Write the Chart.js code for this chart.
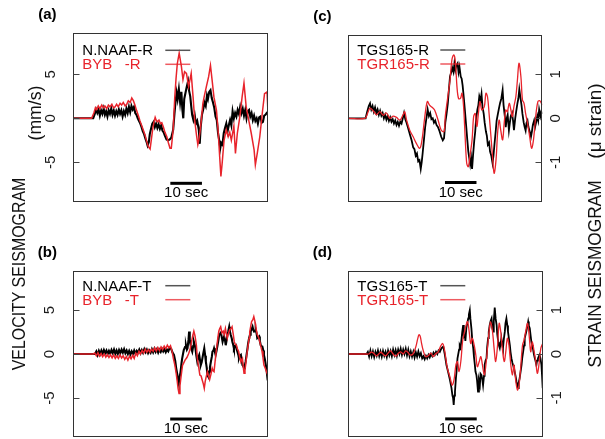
<!DOCTYPE html>
<html><head><meta charset="utf-8">
<script src="https://cdn.jsdelivr.net/npm/chart.js@4.4.1/dist/chart.umd.min.js"></script>
<style>
html,body{margin:0;padding:0;background:#fff;width:605px;height:439px;overflow:hidden;position:relative}
canvas{position:absolute}
.ttl{position:absolute;font-family:"Liberation Sans",Arial,Helvetica,sans-serif;font-size:18px;line-height:18px;color:#111;white-space:pre}
</style></head><body>
<canvas id="cA" width="302" height="220" style="left:0;top:0"></canvas>
<canvas id="cC" width="303" height="220" style="left:302px;top:0"></canvas>
<canvas id="cB" width="302" height="219" style="left:0;top:220px"></canvas>
<canvas id="cD" width="303" height="219" style="left:302px;top:220px"></canvas>
<div class="ttl" id="tL1">VELOCITY SEISMOGRAM</div>
<div class="ttl" id="tL2">(mm/s)</div>
<div class="ttl" id="tR1">STRAIN SEISMOGRAM</div>
<div class="ttl" id="tR2">(μ strain)</div>
<script>
// ---------- data: [time (s), value] ----------
const aRed = [[0,0],[5.8,0],[6.5,0.6],[7.0,1.2],[7.4,1.0],[7.9,1.4],[8.4,1.1],[9.0,1.5],[9.5,1.2],[10.0,1.4],[10.6,1.1],[11.1,1.5],[11.6,1.3],[12.2,1.6],[12.7,1.2],[13.2,1.3],[13.7,1.6],[14.2,1.3],[14.8,1.7],[15.3,1.5],[15.8,1.8],[16.4,1.4],[16.9,1.6],[17.4,2.0],[18.0,1.8],[18.5,2.3],[19.0,2.0],[19.5,1.5],[20.0,0.9],[20.6,0.3],[21.1,-0.3],[21.6,-0.8],[22.2,-1.4],[22.7,-1.9],[23.2,-2.6],[23.7,-3.2],[24.3,-3.5],[24.7,-2.4],[25.1,-1.3],[25.5,-0.5],[25.9,0.1],[26.2,-0.2],[26.6,-0.4],[27.1,-0.2],[27.6,-0.6],[28.0,-0.5],[28.5,-1.0],[29.0,-1.6],[29.6,-2.1],[30.1,-2.8],[30.6,-3.4],[31.0,-3.4],[31.6,-1.3],[32.1,2.4],[32.5,4.5],[32.9,6.2],[33.5,7.4],[34.2,5.9],[34.7,4.4],[35.2,5.3],[35.8,5.1],[36.5,3.6],[37.3,5.1],[37.9,2.4],[38.4,-0.2],[38.9,-1.7],[39.4,-3.0],[39.7,-2.5],[40.1,-1.5],[40.5,-0.2],[41.0,1.7],[41.5,2.6],[42.1,3.6],[42.8,4.7],[43.4,6.0],[43.9,4.4],[44.5,2.4],[45.3,0.9],[45.8,-1.3],[46.3,-4.3],[46.7,-6.6],[47.1,-5.1],[47.7,-2.5],[48.4,-1.3],[49.0,-2.1],[49.5,-1.6],[50.0,-2.5],[50.8,-0.9],[51.3,-4.0],[51.9,-1.7],[52.7,0.2],[53.4,2.4],[54.0,4.0],[54.7,1.3],[55.5,-0.2],[56.3,-1.7],[57.2,-3.6],[57.6,-5.3],[58.2,-4.0],[59.0,-2.1],[59.8,0.6],[60.5,2.8],[61.3,3.0],[61.6,0.6]];
const aBlack = [[0,0],[6.3,0],[6.8,0.5],[7.2,1.0],[7.6,0.6],[8.0,1.0],[8.4,0.3],[8.8,0.9],[9.2,0.5],[9.6,1.1],[10.0,0.4],[10.4,0.8],[10.8,0.2],[11.2,0.9],[11.6,0.5],[12.0,1.1],[12.4,0.4],[12.8,0.9],[13.2,0.3],[13.6,0.8],[14.0,0.4],[14.4,1.0],[14.8,0.5],[15.2,0.9],[15.6,0.2],[16.0,0.8],[16.4,0.4],[16.8,1.1],[17.2,0.6],[17.6,1.3],[18.0,0.7],[18.4,1.4],[18.8,1.0],[19.2,1.3],[19.6,0.6],[20.0,0.4],[20.4,0.0],[20.8,-0.3],[21.2,-0.6],[21.6,-1.0],[22.0,-1.5],[22.4,-1.8],[22.8,-2.3],[23.2,-2.7],[23.5,-3.1],[23.9,-2.7],[24.2,-1.8],[24.6,-1.2],[25.0,-0.6],[25.4,-0.4],[25.8,-1.0],[26.2,-0.6],[26.6,-1.1],[27.0,-0.7],[27.4,-1.2],[27.8,-0.8],[28.2,-1.4],[28.6,-1.6],[29.0,-2.0],[29.5,-2.4],[30.0,-2.5],[30.5,-2.4],[31.0,-2.2],[31.6,-1.3],[32.0,0.5],[32.3,1.7],[32.7,2.9],[33.0,2.2],[33.4,3.3],[33.8,1.8],[34.2,3.0],[34.5,1.0],[34.8,0.0],[35.1,2.2],[35.5,2.9],[35.9,3.6],[36.3,4.2],[36.6,3.2],[37.0,2.5],[37.3,1.4],[37.6,0.4],[38.0,-0.2],[38.4,0.4],[38.8,-0.6],[39.2,-0.3],[39.7,-1.3],[40.0,-2.9],[40.3,-1.0],[40.7,0.4],[41.1,1.0],[41.5,1.8],[41.9,1.4],[42.3,2.6],[42.6,2.2],[43.0,3.0],[43.4,3.2],[43.8,2.3],[44.2,1.8],[44.6,1.2],[45.0,0.2],[45.4,-0.2],[45.8,-1.7],[46.2,-2.6],[46.5,-3.4],[46.8,-2.8],[47.2,-3.0],[47.6,-1.7],[48.0,-1.1],[48.4,-0.6],[48.8,-1.5],[49.2,-0.8],[49.6,-0.2],[50.0,-0.8],[50.4,0.8],[50.8,0.0],[51.2,0.6],[51.6,0.2],[52.0,0.95],[52.4,0.5],[52.8,1.3],[53.2,0.6],[53.6,1.1],[54.0,0.3],[54.4,0.95],[54.8,0.0],[55.2,0.8],[55.6,0.95],[56.0,0.2],[56.4,0.6],[56.8,-0.2],[57.2,0.3],[57.6,-0.3],[58.0,0.0],[58.4,-0.6],[58.8,0.1],[59.2,0.2],[59.6,-0.5],[60.0,-0.4],[60.4,0.3],[60.8,0.4],[61.2,0.6],[61.6,0.75]];

const bRed = [[0,0],[6.3,0],[6.8,0.1],[7.3,-0.2],[7.8,0.15],[8.3,-0.25],[8.8,0.05],[9.3,-0.3],[9.8,0.0],[10.3,-0.35],[10.8,-0.05],[11.3,-0.4],[11.8,-0.1],[12.3,-0.45],[12.8,-0.1],[13.3,-0.5],[13.8,-0.2],[14.3,-0.5],[14.8,-0.1],[15.3,-0.45],[15.8,-0.2],[16.3,-0.6],[16.8,-0.3],[17.3,-0.7],[17.8,-0.25],[18.3,-0.55],[18.8,-0.15],[19.3,-0.5],[19.8,0.1],[20.3,-0.2],[20.8,0.3],[21.3,0.0],[21.8,0.4],[22.3,0.1],[22.8,0.55],[23.3,0.2],[23.8,0.5],[24.3,0.2],[24.8,0.55],[25.3,0.3],[25.8,0.7],[26.3,0.35],[26.8,0.75],[27.3,0.4],[27.8,0.8],[28.3,0.5],[28.8,0.9],[29.3,0.6],[29.8,1.0],[30.3,0.7],[30.8,0.95],[31.3,0.3],[31.7,-0.5],[32.2,-1.3],[32.6,-2.2],[32.9,-3.0],[33.2,-3.9],[33.5,-4.5],[33.8,-3.6],[34.1,-2.7],[34.6,-1.3],[35.0,-1.0],[35.4,-0.7],[36.0,-0.4],[36.5,0.0],[37.0,0.5],[37.4,1.3],[37.8,2.0],[38.2,2.6],[38.6,2.0],[39.0,1.0],[39.3,-0.5],[39.7,-1.4],[40.1,-2.4],[40.5,-2.5],[40.8,-2.9],[41.2,-3.4],[41.5,-3.9],[41.8,-3.1],[42.1,-2.6],[42.5,-2.0],[42.8,-2.4],[43.2,-2.9],[43.6,-2.3],[44.0,-1.6],[44.3,-1.9],[44.6,-2.0],[45.0,-0.6],[45.4,0.7],[45.8,1.8],[46.1,2.6],[46.4,2.9],[46.7,3.1],[47.1,2.4],[47.5,2.6],[47.8,2.2],[48.2,2.9],[48.5,2.3],[48.8,1.8],[49.2,2.4],[49.6,2.8],[50.0,2.9],[50.3,3.1],[50.7,2.2],[51.0,1.4],[51.3,1.1],[51.7,1.0],[52.0,0.6],[52.4,0.3],[52.7,-0.3],[53.1,-0.9],[53.4,-0.6],[53.6,-0.5],[53.9,-1.6],[54.1,-2.2],[54.4,-1.8],[54.6,-1.3],[55.0,0.0],[55.4,1.0],[55.7,1.8],[55.9,2.5],[56.2,3.1],[56.5,3.7],[56.9,3.9],[57.2,4.25],[57.5,3.8],[57.8,3.3],[58.0,2.7],[58.3,2.2],[58.7,1.9],[59.1,1.4],[59.4,0.9],[59.8,0.3],[60.1,-0.4],[60.4,-1.25],[60.8,-1.6],[61.2,-2.0],[61.6,-2.4]];
const bBlack = [[0,0],[6.9,0],[7.3,0.3],[7.7,-0.1],[8.1,0.35],[8.5,0.0],[8.9,0.4],[9.3,0.05],[9.7,0.45],[10.1,0.1],[10.5,0.4],[10.9,0.0],[11.3,0.35],[11.7,0.05],[12.1,0.45],[12.5,0.1],[12.9,0.5],[13.3,0.05],[13.7,0.4],[14.1,0.0],[14.5,0.45],[14.9,0.1],[15.3,0.5],[15.7,0.15],[16.1,0.55],[16.5,0.1],[16.9,0.4],[17.3,0.0],[17.7,0.35],[18.1,-0.05],[18.5,0.3],[18.9,0.0],[19.3,0.4],[19.7,0.05],[20.1,0.35],[20.5,0.15],[20.9,0.5],[21.3,0.1],[21.7,0.45],[22.1,0.15],[22.5,0.55],[22.9,0.2],[23.3,0.5],[23.7,0.1],[24.1,0.4],[24.5,0.15],[24.9,0.55],[25.3,0.2],[25.7,0.6],[26.1,0.25],[26.5,0.55],[26.9,0.15],[27.3,0.5],[27.7,0.25],[28.1,0.6],[28.5,0.3],[28.9,0.55],[29.3,0.2],[29.7,0.5],[30.1,0.3],[30.5,0.7],[31.0,0.6],[31.4,0.2],[31.9,-0.1],[32.3,-0.8],[32.6,-1.6],[33.0,-2.4],[33.2,-3.0],[33.4,-3.35],[33.7,-2.6],[34.0,-2.0],[34.3,-1.0],[34.5,-0.5],[35.0,0.45],[35.4,0.8],[35.7,1.0],[36.0,0.5],[36.2,0.65],[36.5,1.6],[36.7,2.55],[36.9,1.6],[37.2,1.0],[37.5,0.5],[37.7,0.27],[38.0,0.9],[38.2,1.4],[38.5,1.0],[38.7,0.65],[39.0,-0.2],[39.3,-0.87],[39.6,-0.4],[39.9,-0.1],[40.2,-0.8],[40.4,-1.25],[40.7,-0.9],[40.9,-0.5],[41.2,0.1],[41.5,0.65],[41.8,-0.2],[42.0,-0.87],[42.3,-1.6],[42.5,-2.4],[42.8,-2.6],[43.0,-2.0],[43.3,-1.5],[43.6,-0.87],[43.9,-0.3],[44.1,0.27],[44.4,0.4],[44.6,0.65],[44.9,0.2],[45.1,-0.1],[45.4,0.4],[45.7,1.0],[46.0,1.6],[46.2,2.15],[46.5,2.3],[46.7,2.55],[47.0,2.0],[47.3,1.4],[47.6,1.8],[47.8,2.0],[48.1,1.5],[48.3,1.0],[48.6,1.6],[48.8,2.15],[49.1,2.6],[49.4,3.1],[49.6,2.6],[49.9,2.15],[50.2,1.8],[50.4,1.4],[50.7,1.0],[50.9,0.65],[51.2,0.9],[51.5,1.0],[51.7,0.6],[52.0,0.27],[52.3,-0.1],[52.5,-0.5],[52.8,-0.2],[53.1,-0.1],[53.4,-0.7],[53.6,-1.25],[53.9,-1.4],[54.1,-1.6],[54.4,-1.2],[54.6,-0.87],[54.9,-0.1],[55.2,0.65],[55.4,1.2],[55.7,1.8],[56.0,2.2],[56.2,2.55],[56.5,2.8],[56.8,3.1],[57.0,2.8],[57.3,2.55],[57.6,2.6],[57.8,2.75],[58.1,2.3],[58.3,1.8],[58.6,1.9],[58.9,2.0],[59.1,1.5],[59.4,1.0],[59.6,0.9],[59.9,0.85],[60.2,0.4],[60.4,-0.1],[60.7,-0.6],[61.0,-1.25],[61.3,-2.0],[61.6,-3.0]];

const cRed = [[0,0],[5.3,0],[6.1,0.11],[6.9,0.23],[7.9,0.17],[9.0,0.08],[10.0,0.15],[11.1,0.07],[12.1,0.12],[13.2,0.0],[14.2,0.05],[15.3,0.02],[16.4,-0.04],[17.4,0.08],[17.9,0.15],[18.5,-0.04],[19.5,-0.27],[20.6,-0.42],[21.6,-0.57],[22.7,-0.68],[23.4,-0.49],[24.3,0.04],[25.1,0.38],[25.8,0.3],[26.6,0.25],[27.4,0.19],[28.5,-0.04],[29.5,-0.27],[30.4,-0.3],[30.8,0.05],[31.6,0.49],[32.3,0.87],[32.9,1.33],[33.5,1.44],[34.0,1.29],[34.5,0.72],[35.0,0.45],[35.6,0.45],[36.1,0.57],[36.6,0.27],[37.1,-0.42],[37.6,-1.02],[38.1,-1.1],[38.6,-0.87],[39.3,-0.49],[39.8,0.04],[40.3,0.11],[40.8,-0.19],[41.3,0.1],[41.8,0.38],[42.4,0.19],[43.2,0.27],[43.7,0.57],[44.2,0.49],[44.7,0.11],[45.3,-0.42],[45.8,-0.87],[46.3,-1.25],[46.9,-0.95],[47.4,-0.34],[47.9,-0.04],[48.4,-0.27],[49.0,-0.49],[49.5,-0.11],[50.0,0.19],[50.5,0.15],[51.1,0.34],[51.6,0.2],[52.1,0.04],[52.6,0.27],[53.2,0.49],[53.7,0.87],[54.2,1.25],[54.8,0.95],[55.3,0.42],[55.8,0.34],[56.3,0.11],[56.9,-0.11],[57.6,-0.42],[58.2,-0.68],[58.8,-0.49],[59.5,0.04],[60.2,0.38],[60.8,0.4],[61.6,0.3]];
const cBlack = [[0,0],[5.5,0],[6.0,0.15],[6.5,0.28],[6.9,0.34],[7.3,0.2],[7.7,0.28],[8.1,0.15],[8.5,0.25],[8.9,0.12],[9.3,0.2],[9.7,0.08],[10.1,0.17],[10.5,0.06],[10.9,0.12],[11.3,0.0],[11.7,0.08],[12.1,-0.03],[12.5,0.05],[12.9,-0.06],[13.3,0.02],[13.7,-0.08],[14.1,-0.02],[14.5,-0.12],[14.9,-0.05],[15.3,-0.15],[15.7,-0.08],[16.1,-0.17],[16.5,-0.08],[16.9,-0.12],[17.3,0.0],[17.7,0.12],[18.1,-0.02],[18.5,-0.1],[18.9,-0.2],[19.3,-0.3],[19.7,-0.4],[20.1,-0.5],[20.6,-0.66],[21.0,-0.7],[21.4,-0.85],[21.8,-0.8],[22.2,-0.98],[22.6,-0.95],[23.0,-1.15],[23.3,-1.0],[23.6,-0.8],[24.0,-0.5],[24.4,-0.2],[24.8,0.0],[25.2,0.2],[25.6,0.05],[26.0,0.12],[26.4,-0.02],[26.8,0.0],[27.2,-0.1],[27.6,-0.05],[28.0,-0.15],[28.5,-0.2],[29.0,-0.3],[29.5,-0.42],[30.0,-0.5],[30.4,-0.45],[30.8,-0.1],[31.2,0.1],[31.6,0.34],[32.0,0.7],[32.3,0.95],[32.7,1.05],[33.0,1.15],[33.4,1.05],[33.7,1.25],[34.0,1.1],[34.3,1.2],[34.7,1.25],[35.0,1.05],[35.3,1.17],[35.7,0.95],[36.0,0.9],[36.3,0.75],[36.7,0.45],[37.0,0.2],[37.4,-0.15],[37.8,-0.5],[38.1,-0.75],[38.4,-0.9],[38.7,-1.05],[39.0,-0.9],[39.3,-1.15],[39.6,-0.85],[40.0,-0.5],[40.3,-0.3],[40.6,0.0],[41.0,0.2],[41.3,0.3],[41.6,0.5],[42.0,0.4],[42.3,0.55],[42.6,0.27],[43.0,0.1],[43.3,-0.1],[43.7,-0.3],[44.0,-0.4],[44.3,-0.6],[44.7,-0.55],[45.0,-0.75],[45.4,-0.85],[45.8,-1.02],[46.1,-0.85],[46.4,-0.6],[46.8,-0.3],[47.1,-0.05],[47.5,0.1],[47.9,0.25],[48.2,0.35],[48.6,0.45],[49.0,0.64],[49.3,0.3],[49.7,0.05],[50.0,-0.2],[50.3,0.0],[50.6,0.08],[51.0,-0.27],[51.3,-0.1],[51.6,0.05],[52.0,0.12],[52.3,-0.05],[52.6,-0.27],[53.0,0.0],[53.3,0.15],[53.7,0.34],[54.0,0.45],[54.3,0.66],[54.7,0.45],[55.0,0.3],[55.3,0.1],[55.7,-0.1],[56.0,-0.2],[56.3,-0.28],[56.6,-0.1],[56.9,-0.05],[57.2,-0.2],[57.6,-0.3],[58.0,-0.42],[58.3,-0.3],[58.6,-0.15],[59.0,-0.05],[59.3,-0.2],[59.6,-0.1],[60.0,0.05],[60.3,-0.05],[60.6,0.2],[61.0,0.05],[61.3,0.15],[61.6,0.1]];

const dRed = [[0,0],[5.8,0],[6.5,0.0],[7.2,0.04],[8.0,0.02],[8.8,-0.04],[9.5,-0.01],[10.3,0.04],[11.0,0.0],[11.8,-0.04],[12.6,0.02],[13.4,0.07],[14.2,0.0],[15.0,-0.05],[15.8,0.01],[16.6,0.05],[17.4,0.0],[18.2,0.07],[19.0,0.03],[19.5,-0.02],[20.5,0.0],[21.2,0.12],[21.6,0.22],[22.0,0.35],[22.4,0.44],[22.8,0.4],[23.2,0.25],[23.7,0.09],[24.5,-0.06],[25.3,-0.04],[26.2,0.02],[26.9,-0.06],[27.6,0.0],[28.5,0.05],[29.2,0.17],[29.9,0.24],[30.4,0.13],[30.9,-0.1],[31.4,-0.33],[32.2,-0.52],[32.9,-0.71],[33.5,-0.59],[34.1,-0.25],[34.6,-0.17],[35.1,-0.4],[35.7,-0.14],[36.2,0.28],[36.7,0.47],[37.2,0.62],[37.8,0.74],[38.3,0.51],[38.8,0.24],[39.3,0.36],[39.9,0.2],[40.4,-0.02],[40.9,-0.29],[41.5,-0.17],[42.0,-0.06],[42.5,-0.25],[43.1,-0.48],[43.6,-0.25],[44.1,0.13],[44.6,0.51],[45.1,0.74],[45.7,0.51],[46.2,0.13],[46.7,-0.17],[47.3,0.2],[47.8,0.7],[48.3,0.51],[48.8,0.13],[49.4,-0.17],[49.9,0.05],[50.4,0.36],[50.9,0.2],[51.5,-0.25],[52.0,-0.48],[52.5,-0.25],[53.1,-0.63],[53.6,-0.82],[54.1,-0.71],[54.6,-0.33],[55.2,0.2],[55.7,0.32],[56.2,0.51],[56.8,0.7],[57.3,0.43],[57.8,0.05],[58.3,0.28],[58.9,0.05],[59.4,-0.17],[59.9,-0.44],[60.4,-0.25],[61.0,0.13],[61.6,0.24]];
const dBlack = [[0,0],[5.8,0],[6.2,0.05],[6.6,-0.06],[7.0,0.08],[7.4,-0.05],[7.8,0.06],[8.2,-0.07],[8.6,0.05],[9.0,-0.04],[9.4,0.08],[9.8,-0.05],[10.2,0.06],[10.6,-0.06],[11.0,0.07],[11.4,-0.04],[11.8,0.05],[12.2,-0.07],[12.6,0.08],[13.0,-0.03],[13.4,0.07],[13.8,-0.05],[14.2,0.1],[14.6,-0.02],[15.0,0.09],[15.4,-0.04],[15.8,0.1],[16.2,0.0],[16.6,0.12],[17.0,-0.02],[17.4,0.1],[17.8,0.0],[18.2,0.12],[18.6,-0.03],[19.0,0.1],[19.4,-0.05],[19.8,0.06],[20.2,-0.06],[20.6,0.05],[21.0,-0.08],[21.4,0.04],[21.8,-0.06],[22.2,0.06],[22.6,-0.05],[23.0,0.02],[23.4,-0.1],[23.8,-0.05],[24.2,-0.12],[24.6,-0.04],[25.0,-0.1],[25.4,-0.02],[25.8,-0.08],[26.2,0.0],[26.6,-0.05],[27.0,0.03],[27.4,-0.02],[27.8,0.05],[28.2,0.0],[28.6,0.08],[29.0,0.05],[29.5,0.13],[30.1,0.17],[30.6,-0.02],[31.1,-0.25],[31.6,-0.4],[32.2,-0.59],[32.7,-0.78],[33.0,-0.95],[33.2,-1.0],[33.4,-1.16],[33.6,-0.95],[33.8,-0.86],[34.1,-0.55],[34.3,-0.4],[34.6,-0.1],[34.8,-0.02],[35.1,0.1],[35.3,0.2],[35.6,0.15],[35.9,0.36],[36.1,0.5],[36.4,0.66],[36.6,0.4],[36.9,0.43],[37.1,0.3],[37.4,0.59],[37.7,0.7],[38.0,0.81],[38.2,0.9],[38.5,1.0],[38.7,0.8],[39.0,0.59],[39.3,0.3],[39.6,0.13],[39.8,-0.05],[40.1,-0.25],[40.3,-0.4],[40.6,-0.48],[40.8,-0.6],[41.1,-0.86],[41.4,-0.6],[41.7,-0.7],[41.9,-0.45],[42.2,-0.48],[42.5,-0.6],[42.7,-0.71],[43.0,-0.5],[43.2,-0.25],[43.5,-0.15],[43.8,-0.1],[44.0,0.15],[44.3,0.36],[44.5,0.5],[44.8,0.66],[45.1,0.75],[45.4,0.81],[45.6,0.6],[45.9,0.51],[46.1,0.75],[46.4,1.06],[46.7,0.8],[47.0,0.66],[47.2,0.45],[47.5,0.28],[47.7,0.2],[48.0,0.13],[48.3,0.25],[48.5,0.36],[48.8,0.2],[49.0,0.13],[49.3,0.35],[49.6,0.51],[49.8,0.7],[50.1,0.81],[50.4,0.65],[50.6,0.51],[50.9,0.35],[51.2,0.2],[51.4,0.05],[51.7,-0.1],[52.0,-0.2],[52.2,-0.25],[52.5,-0.33],[52.7,-0.4],[53.0,-0.5],[53.3,-0.63],[53.5,-0.7],[53.8,-0.78],[54.0,-0.65],[54.3,-0.55],[54.6,-0.4],[54.9,-0.25],[55.1,-0.1],[55.4,0.05],[55.7,0.2],[55.9,0.36],[56.2,0.45],[56.4,0.51],[56.7,0.62],[57.0,0.74],[57.2,0.65],[57.5,0.59],[57.8,0.4],[58.0,0.28],[58.3,0.2],[58.5,0.13],[58.8,0.0],[59.1,-0.1],[59.3,-0.15],[59.6,-0.25],[59.8,-0.15],[60.1,-0.1],[60.4,-0.05],[60.6,-0.02],[60.9,-0.1],[61.2,-0.25],[61.4,-0.5],[61.6,-0.78]];

// ---------- labels / ticks ----------
const velTicks = [-5, 0, 5];
const strainTicks = [-1, 0, 1];
const legendA = ["N.NAAF-R", "BYB   -R"];
const legendB = ["N.NAAF-T", "BYB   -T"];
const legendC = ["TGS165-R", "TGR165-R"];
const legendD = ["TGS165-T", "TGR165-T"];
const panelNames = ["(a)", "(b)", "(c)", "(d)"];
const barText = "10 sec";
const barSeconds = [30.7, 40.7];
const T_MAX = 61.6;

// ---------- style ----------
const RED = '#e8232b';
const FONT = '"Liberation Sans", Arial, Helvetica, sans-serif';

const decoPlugin = {
  id: 'deco',
  afterDatasetsDraw(chart, args, o) {
    const ctx = chart.ctx, a = chart.chartArea, xs = chart.scales.x, ys = chart.scales.y;
    ctx.save();
    const L = Math.round(a.left) + 0.5, R = Math.round(a.right) - 0.5;
    const T = Math.round(a.top) + 0.5, B = Math.round(a.bottom) - 0.5;
    ctx.strokeStyle = '#333'; ctx.lineWidth = 1;
    ctx.strokeRect(L, T, R - L, B - T);
    // ticks + rotated labels
    ctx.font = '15px ' + FONT; ctx.fillStyle = '#1a1a1a';
    ctx.textAlign = 'center'; ctx.textBaseline = 'middle';
    o.ticks.forEach(v => {
      const py = Math.round(ys.getPixelForValue(v)) + 0.5;
      ctx.strokeStyle = '#444';
      ctx.beginPath();
      if (o.side === 'left') { ctx.moveTo(L, py); ctx.lineTo(L + 6, py); }
      else { ctx.moveTo(R, py); ctx.lineTo(R - 6, py); }
      ctx.stroke();
      const lx = o.side === 'left' ? a.left - o.labelOff : a.right + o.labelOff;
      ctx.save();
      ctx.translate(lx, ys.getPixelForValue(v));
      ctx.rotate(-Math.PI / 2);
      ctx.fillText(String(v), 0, 1);
      ctx.restore();
    });
    // legend
    ctx.textAlign = 'left';
    const lgY = [a.top + o.lgTop, a.top + o.lgTop + 14];
    ctx.fillStyle = '#000'; ctx.fillText(o.legend[0], a.left + 9, lgY[0]);
    ctx.fillStyle = RED; ctx.fillText(o.legend[1], a.left + 9, lgY[1]);
    ctx.lineWidth = 1.5;
    ctx.strokeStyle = '#555';
    ctx.beginPath(); ctx.moveTo(a.left + 92, lgY[0] - 1); ctx.lineTo(a.left + 117, lgY[0] - 1); ctx.stroke();
    ctx.strokeStyle = 'rgba(232,35,43,0.75)';
    ctx.beginPath(); ctx.moveTo(a.left + 92, lgY[1] - 1); ctx.lineTo(a.left + 117, lgY[1] - 1); ctx.stroke();
    // scale bar
    const by = ys.getPixelForValue(o.barY);
    const bx0 = xs.getPixelForValue(barSeconds[0]), bx1 = xs.getPixelForValue(barSeconds[1]);
    ctx.strokeStyle = '#000'; ctx.lineWidth = 3;
    ctx.beginPath(); ctx.moveTo(bx0, by); ctx.lineTo(bx1, by); ctx.stroke();
    ctx.fillStyle = '#000'; ctx.textAlign = 'center';
    ctx.fillText(barText, (bx0 + bx1) / 2, by + 10);
    // panel name
    ctx.font = 'bold 15px ' + FONT;
    ctx.fillText(o.name, a.left - 26, a.top - 18);
    ctx.restore();
  }
};

function makePanel(id, red, black, yMin, yMax, smooth, pad, deco) {
  return new Chart(document.getElementById(id), {
    type: 'line',
    data: { datasets: [
      { data: red.map(p => ({x: p[0], y: p[1]})), borderColor: RED, borderWidth: smooth ? 1.3 : 1.5,
        pointRadius: 0, tension: smooth ? 0.35 : 0, order: 0, fill: false },
      { data: black.map(p => ({x: p[0], y: p[1]})), borderColor: '#000', borderWidth: smooth ? 1.8 : 2.1,
        pointRadius: 0, tension: 0, order: 1, fill: false }
    ]},
    options: {
      responsive: false, animation: false, devicePixelRatio: 1, events: [],
      layout: { padding: pad },
      scales: {
        x: { type: 'linear', min: 0, max: T_MAX, display: false },
        y: { type: 'linear', min: yMin, max: yMax, display: false }
      },
      plugins: { legend: { display: false }, tooltip: { enabled: false }, deco: deco }
    },
    plugins: [decoPlugin]
  });
}

makePanel('cA', aRed, aBlack, -9.48, 9.66, false,
  {left: 73.3, top: 33.3, right: 34, bottom: 18.3},
  {ticks: velTicks, side: 'left', labelOff: 23, legend: legendA, lgTop: 18, barY: -7.39, name: panelNames[0]});
makePanel('cB', bRed, bBlack, -9.40, 9.47, false,
  {left: 73.3, top: 50.7, right: 34.3, bottom: 2.3},
  {ticks: velTicks, side: 'left', labelOff: 24, legend: legendB, lgTop: 16, barY: -7.39, name: panelNames[1]});
makePanel('cC', cRed, cBlack, -1.895, 1.893, true,
  {left: 46.3, top: 35, right: 62.7, bottom: 18.3},
  {ticks: strainTicks, side: 'right', labelOff: 13, legend: legendC, lgTop: 16, barY: -1.46, name: panelNames[2]});
makePanel('cD', dRed, dBlack, -1.886, 1.90, true,
  {left: 46.3, top: 50.7, right: 62.3, bottom: 2.3},
  {ticks: strainTicks, side: 'right', labelOff: 13, legend: legendD, lgTop: 16, barY: -1.48, name: panelNames[3]});

// axis titles (rotated real text)
function placeTitle(id, cx, cy, len) {
  const el = document.getElementById(id);
  const w = el.offsetWidth;
  const s = len / w;
  el.style.left = cx + 'px'; el.style.top = cy + 'px';
  el.style.transform = 'translate(-50%,-50%) rotate(-90deg) scaleX(' + s.toFixed(3) + ')';
}
placeTitle('tL1', 18.5, 273.5, 193);
placeTitle('tL2', 34.5, 112.5, 55);
placeTitle('tR1', 595, 273.5, 187);
placeTitle('tR2', 595, 120.5, 75);
</script>
</body></html>
